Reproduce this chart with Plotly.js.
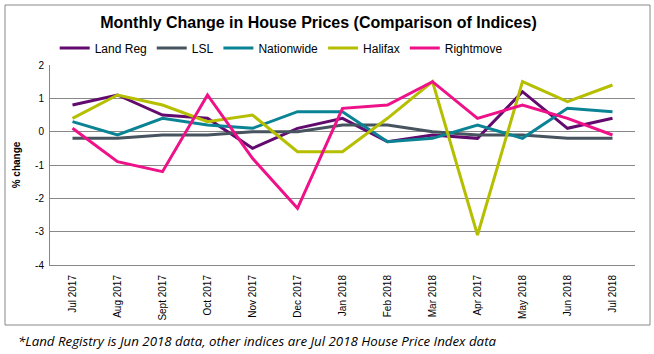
<!DOCTYPE html>
<html>
<head>
<meta charset="utf-8">
<script src="https://cdn.plot.ly/plotly-3.0.1.min.js"></script>
<style>html,body{margin:0;padding:0;background:#fff;}#chart{width:654px;height:354px;}</style>
</head>
<body>
<div id="chart"></div>
<script>
const months = ["Jul 2017","Aug 2017","Sept 2017","Oct 2017","Nov 2017","Dec 2017","Jan 2018","Feb 2018","Mar 2018","Apr 2017","May 2018","Jun 2018","Jul 2018"];
const landReg   = [0.8, 1.1, 0.5, 0.4, -0.5, 0.1, 0.4, -0.3, -0.1, -0.2, 1.2, 0.1, 0.4];
const lsl       = [-0.2, -0.2, -0.1, -0.1, 0.0, 0.0, 0.2, 0.2, 0.0, -0.1, -0.1, -0.2, -0.2];
const nationwide= [0.3, -0.1, 0.4, 0.2, 0.1, 0.6, 0.6, -0.3, -0.2, 0.2, -0.2, 0.7, 0.6];
const halifax   = [0.4, 1.1, 0.8, 0.3, 0.5, -0.6, -0.6, 0.4, 1.5, -3.1, 1.5, 0.9, 1.4];
const rightmove = [0.1, -0.9, -1.2, 1.1, -0.8, -2.3, 0.7, 0.8, 1.5, 0.4, 0.8, 0.4, -0.1];
const seriesNames = ["Land Reg","LSL","Nationwide","Halifax","Rightmove"];
const seriesColors = ["#620A6E","#47545F","#0A8494","#B6BE00","#EE1188"];
const seriesData = [landReg, lsl, nationwide, halifax, rightmove];
const yTicks = [-4,-3,-2,-1,0,1,2];

const traces = seriesData.map((d,i)=>({
  x: months, y: d, name: seriesNames[i], type:'scatter', mode:'lines',
  line:{color:seriesColors[i], width:3}
}));

const F = "Liberation Sans, Arial, sans-serif";
const layout = {
  width:654, height:354,
  margin:{l:50, r:19, t:65, b:89},
  paper_bgcolor:'#fff', plot_bgcolor:'#fff',
  font:{family:F, color:'#000'},
  showlegend:true,
  title:{text:'<b>Monthly Change in House Prices (Comparison of Indices)</b>', font:{family:F, size:16, color:'#000'},
    x:0.487, xanchor:'center', y:1-22/354, yanchor:'middle', xref:'container', yref:'container'},
  legend:{orientation:'h', x:0.008, xanchor:'left', y:1.085, yanchor:'middle', font:{family:F, size:12}, bgcolor:'rgba(0,0,0,0)', itemwidth:30, traceorder:'normal'},
  xaxis:{type:'category', range:[-0.5, 12.5], tickangle:-90, tickfont:{family:F, size:10}, showgrid:false, showline:true, linecolor:'#888', linewidth:1, ticks:'outside', ticklen:5, tickcolor:'rgba(0,0,0,0)', zeroline:false, automargin:false},
  yaxis:{range:[-4,2], tickvals:yTicks, ticktext:yTicks.map(String), tickfont:{family:F, size:10}, showgrid:true, gridcolor:'#888', gridwidth:1, zeroline:false, showline:true, linecolor:'#888', linewidth:1, ticks:'outside', ticklen:3, tickcolor:'rgba(0,0,0,0)',
    title:{text:'<b>% change</b>', font:{family:F, size:10}, standoff:12}, automargin:false},
  shapes:[
    {type:'rect', xref:'paper', yref:'paper', x0:(5-50)/585, x1:(650-50)/585, y0:(265-325)/200, y1:(265-5)/200, line:{color:'#888', width:1}, fillcolor:'rgba(0,0,0,0)'}
  ],
  annotations:[
    {text:'<i>*Land Registry is Jun 2018 data, other indices are Jul 2018 House Price Index data</i>', xref:'paper', yref:'paper', x:(16-50)/585, y:(265-341)/200, xanchor:'left', yanchor:'middle', showarrow:false, font:{family:'Open Sans, sans-serif', size:13.3, color:'#000'}}
  ]
};
Plotly.newPlot('chart', traces, layout, {displayModeBar:false, staticPlot:true});
</script>
</body>
</html>
